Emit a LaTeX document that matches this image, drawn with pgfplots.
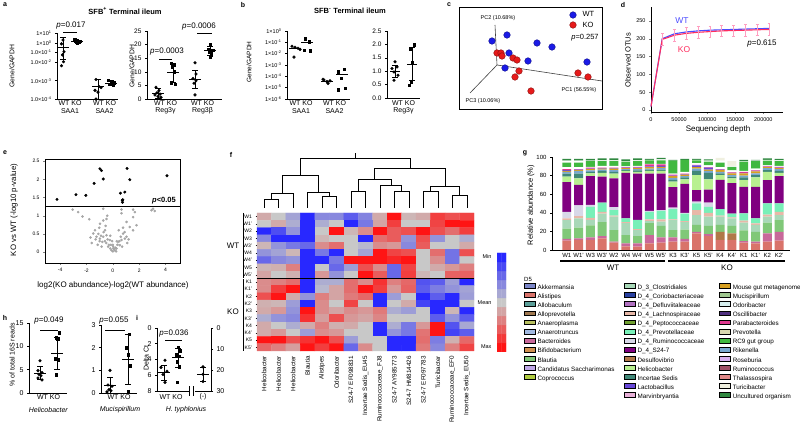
\documentclass[border=0pt]{standalone}
\usepackage{fontspec}
\setmainfont{Liberation Sans}
\usepackage{pgfplots}
\usepackage{pgfplotstable}
\pgfplotsset{compat=1.18}
\newcommand{\fs}[1]{\fontsize{#1}{#1}\selectfont}
\definecolor{wtblue}{HTML}{4B4BFF}
\definecolor{kored}{HTML}{FF2E5F}
\definecolor{errpink}{HTML}{FF9EC0}
\definecolor{pcblue}{HTML}{1A1AE6}
\definecolor{pcred}{HTML}{E61A1A}
\definecolor{La}{HTML}{7B86C8}\definecolor{Lb}{HTML}{D9736A}\definecolor{Lc}{HTML}{5A9E98}
\definecolor{Ld}{HTML}{A07850}\definecolor{Le}{HTML}{B8C060}\definecolor{Lf}{HTML}{A0B8E0}
\definecolor{Lg}{HTML}{C8689A}\definecolor{Lh}{HTML}{D09050}\definecolor{Li}{HTML}{80C878}
\definecolor{Lj}{HTML}{C0A8E8}\definecolor{Lk}{HTML}{B0CC40}
\definecolor{Ma}{HTML}{A8D8B8}\definecolor{Mb}{HTML}{2840A0}\definecolor{Mc}{HTML}{B070C0}
\definecolor{Md}{HTML}{E8B8A8}\definecolor{Me}{HTML}{70A030}\definecolor{Mf}{HTML}{78F0B8}
\definecolor{Mg}{HTML}{D8D8E8}\definecolor{Mh}{HTML}{800080}\definecolor{Mi}{HTML}{B07848}
\definecolor{Mj}{HTML}{B8F090}\definecolor{Mk}{HTML}{408878}\definecolor{Ml}{HTML}{6848D8}
\definecolor{Mm}{HTML}{E8B0D8}
\definecolor{Ra}{HTML}{D8A020}\definecolor{Rb}{HTML}{A0C890}\definecolor{Rc}{HTML}{D8F0F0}
\definecolor{Rd}{HTML}{503080}\definecolor{Re}{HTML}{E03890}\definecolor{Rf}{HTML}{D8D8B0}
\definecolor{Rg}{HTML}{40B840}\definecolor{Rh}{HTML}{78A8D0}\definecolor{Ri}{HTML}{D8B0F0}
\definecolor{Rj}{HTML}{A05068}\definecolor{Rk}{HTML}{E08888}\definecolor{Rl}{HTML}{F0F0E0}
\definecolor{Rm}{HTML}{308840}
\pgfplotsset{
 every axis/.append style={/pgf/number format/assume math mode=true},
 colormap={hm}{rgb255=(40,40,255) rgb255=(200,200,200) rgb255=(255,20,20)},
 px/.style={scale only axis, anchor=south west},
 wt/.style={only marks, mark=*, mark size=1.4pt, black},
 ko/.style={only marks, mark=square*, mark size=1.3pt, black},
 prism/.style={px, axis x line*=bottom, axis y line*=left, xtick=\empty, tick align=outside,
   major tick length=2pt, tick style={black, line width=0.5pt},
   axis line style={black, line width=0.6pt}, tick label style={font=\fs{6}}, clip=false},
 legcol/.style={px, at={(0pt,0pt)}, width=800pt, height=425pt, xmin=0, xmax=800, ymin=0, ymax=425,
   hide axis, legend cell align=left,
   legend image code/.code={\fill[##1] (0pt,-0.6pt) rectangle (11pt,4.2pt); \path (12.5pt,0pt);},
   legend style={at={(#1)}, anchor=north west, draw=none, fill=none, font=\fs{6.3},
     inner sep=0pt, row sep=1.3pt, nodes={inner sep=0.5pt, text height=4.5pt, text depth=1.3pt}}},
}
\newcommand{\msd}[5]{%
 \pgfmathsetmacro\mxa{#1-#5}\pgfmathsetmacro\mxb{#1+#5}%
 \pgfmathsetmacro\cxa{#1-3}\pgfmathsetmacro\cxb{#1+3}%
 \addplot[black,line width=0.6pt] coordinates {(\mxa,#2)(\mxb,#2)};%
 \addplot[black,line width=0.6pt] coordinates {(#1,#3)(#1,#4)};%
 \addplot[black,line width=0.6pt] coordinates {(\cxa,#3)(\cxb,#3)};%
 \addplot[black,line width=0.6pt] coordinates {(\cxa,#4)(\cxb,#4)};}
\newcommand{\mline}[3]{%
 \pgfmathsetmacro\mxa{#1-#3}\pgfmathsetmacro\mxb{#1+#3}%
 \addplot[black,line width=0.6pt] coordinates {(\mxa,#2)(\mxb,#2)};}
\newcommand{\ebar}[5]{%
 \addplot[errpink,line width=0.6pt] coordinates {(#1,#4)(#1,#5)};%
 \addplot[errpink,line width=0.6pt] coordinates {(#2,#4)(#3,#4)};%
 \addplot[errpink,line width=0.6pt] coordinates {(#2,#5)(#3,#5)};}

\pgfplotstableread{
i Alis Desu Bact Blau DClo Lach Prev Rumi Sbar Heli Teal Rike Gold Lact Para GapA RCn GapB Unc Turi
0 10 0 2 11 9 2 0 7 32 6 3 2 1 1 1 2 5 2 2 0
1 11 0 1.5 11.5 10 2.5 0 11.5 22 7 5 3 1 0.5 0.5 2 5 2 2 0
2 11 0 2.5 13 6 2 12 2 31 3 1.5 1.5 1.5 0.5 1 1 6 0.5 2 0
3 12.5 0 2.5 15 9 2 10 0 28 4 2 1.5 1 0.5 0.5 2 5 1 2 0
4 8 0 1 12.5 14.5 1 6 3 31 5 2 2 1.5 0.5 0.5 2 5 1 2 0
5 4 0 3 9 13 1 4 0 49 2 1 1 1 0.5 0.5 1 5 0.5 2 0
6 3.5 0 3.5 8 6.5 1 10 0 49.5 2 1.5 1.5 1 0.5 1 1 5 1 2 0
7 7 0 9 13 2 2 8 1 40 3 1.5 1 1.5 1 2 0.5 4 0.5 1 0
8 8 0 5.5 12.5 4.5 2.5 9 1 39 3 1.5 1.5 1.5 1 1.5 0.5 4 1 1.5 0
9 9 0 4.5 8 10.5 1 11 1.5 22 6 2 2 2 0.5 1 1 14 0 1 0
10 9 0 3 10 8 1 8 1 31 5 2 1.5 1.5 0.5 0.5 2 13 0 1 0
11 18 0 1.5 7.5 10.5 5.5 7 2 12.5 16 4.5 2.5 1.5 2 0.5 2 3 0.5 1 0
12 15 0 2 9 10 4 6.5 4.5 14 11 7 2 1.5 2 0.5 2 4 1 1.5 0
13 11 8.5 0 7.5 9 1 7 0 31.5 5 2 1.5 2 0.5 0.5 2 5 2 0 3
14 11 7 0 8 8 1 4 0 33 5 2 1.5 2 0.5 0.5 2 4 1 0 5
15 8 0 1.5 11.5 8.5 2 8 0 28.5 7 3 2 2.5 0.5 1 1 10 0.5 1.5 0
16 7 0 2 10.5 7.5 1.5 5.5 0 34 10 2.5 2 2 0.5 0.5 2 8 0.5 1 0
17 9 0 9 11.5 6.5 2 12 0 25 9 2 2 1 0.5 0.5 1 5 1 1.5 0
18 10 0 9.5 12.5 5.5 3.5 9 0 29.5 3.5 2 2 1 0.5 1 1 5 1 1.5 0
}\gdata

\begin{document}
\begin{tikzpicture}
\useasboundingbox (0,0) rectangle (800pt,425pt);

% ---------- a1 ----------
\begin{axis}[prism, at={(57pt,326pt)}, width=61pt, height=66pt, xmin=57, xmax=118,
  ymin=0.0001, ymax=10,
  y coord trafo/.code={\pgfmathparse{log10(#1)+0.9*min(log10(#1)+2,0)}},
  ytick={10,1,0.1,0.01,0.001,0.0001},
  yticklabels={1×10\textsuperscript{1},1×10\textsuperscript{0},1.0×10\textsuperscript{-1},1.0×10\textsuperscript{-2},1.0×10\textsuperscript{-3},1.0×10\textsuperscript{-4}},
  tick label style={font=\fs{5.5}}]
\addplot[wt] coordinates {(63,1.9)(61.5,0.78)(64,0.12)(62.5,0.058)(63.5,0.0115)(61.5,0.0066)};
\msd{63}{0.33}{0.02}{3.3}{6}
\addplot[ko] coordinates {(74.5,2.0)(77,1.7)(79.5,1.5)(76,1.3)(78.5,1.1)(77,0.9)(75,1.6)};
\msd{77}{1.5}{1.1}{2.0}{6}
\addplot[wt] coordinates {(96,0.0012)(99,0.0005)(101,0.00044)(95,0.00031)(98,0.00025)(96,0.000105)};
\msd{98}{0.0005}{0.0001}{0.0013}{6}
\addplot[ko] coordinates {(108,0.0011)(111,0.00095)(114,0.00078)(109,0.00066)(113,0.00058)(111,0.0007)};
\msd{111}{0.00078}{0.00056}{0.0011}{6}
\addplot[black,line width=0.6pt] coordinates {(63,12)(77,12)};
\end{axis}

% ---------- a2 ----------
\begin{axis}[prism, at={(147pt,326pt)}, width=75pt, height=68pt, xmin=147, xmax=222,
  ymin=0, ymax=25, ytick={0,5,10,15,20,25}, tick label style={font=\fs{6.5}}]
\addplot[wt] coordinates {(156,4.3)(159,3.1)(157,2.3)(160,1.8)(155,1.5)(158,0.9)(161,0.6)};
\msd{158}{2.1}{0.3}{3.9}{6}
\addplot[ko] coordinates {(171,13.2)(174,12.6)(172,11.9)(174,10.1)(171,6.0)(175,5.5)};
\msd{173}{9.9}{6.0}{13.1}{6}
\addplot[wt] coordinates {(195,13.3)(196,9.2)(193,7.5)(196,6.7)(194,5.8)(195,1.5)};
\msd{195}{7.3}{3.9}{10.6}{6}
\addplot[ko] coordinates {(210,20.2)(208,18.3)(211,17.8)(213,18.0)(209,17.4)(211,16.2)(210,15.3)};
\msd{210}{17.8}{16.1}{19.5}{6}
\addplot[black,line width=0.6pt] coordinates {(159,14.6)(172,14.6)};
\addplot[black,line width=0.6pt] coordinates {(197,24.3)(212,24.3)};
\end{axis}

% ---------- b1 ----------
\begin{axis}[prism, at={(287pt,326pt)}, width=63pt, height=68pt, xmin=287, xmax=350,
  ymode=log, ymin=1e-6, ymax=1, ytick={1,0.1,0.01,0.001,0.0001,0.00001,0.000001},
  yticklabels={1×10\textsuperscript{0},1×10\textsuperscript{-1},1×10\textsuperscript{-2},1×10\textsuperscript{-3},1×10\textsuperscript{-4},1×10\textsuperscript{-5},1×10\textsuperscript{-6}},
  tick label style={font=\fs{5.5}}]
\addplot[wt] coordinates {(292,0.045)(295,0.036)(298,0.03)(300,0.024)(294,0.005)};
\mline{295}{0.028}{6}
\addplot[ko] coordinates {(305,0.22)(309,0.12)(304,0.021)(310,0.018)};
\mline{307}{0.095}{6}
\addplot[wt] coordinates {(324,4.8e-5)(327,3.4e-5)(330,4e-5)(323,5.5e-5)(328,2.4e-5)};
\mline{327}{4e-5}{6}
\addplot[ko] coordinates {(344,4.2e-4)(338,2.6e-4)(341,6.6e-5)(345,8.7e-6)(338,6.3e-6)};
\mline{342}{1.5e-4}{6}
\end{axis}

% ---------- b2 ----------
\begin{axis}[prism, at={(387pt,327pt)}, width=33pt, height=67pt, xmin=387, xmax=420,
  ymin=0, ymax=2.5, ytick={0,0.5,1,1.5,2,2.5},
  yticklabel style={/pgf/number format/.cd, fixed, fixed zerofill, precision=1},
  tick label style={font=\fs{6.5}}]
\addplot[wt] coordinates {(395,1.35)(392,1.1)(397,1.16)(394,0.97)(398,0.85)(394,0.66)};
\msd{395}{0.98}{0.76}{1.22}{5}
\addplot[ko] coordinates {(414,1.98)(410,1.85)(412,1.31)(411,0.6)(409,0.48)};
\msd{412}{1.25}{0.65}{1.9}{5}
\end{axis}

% ---------- c ----------
\begin{axis}[px, at={(459pt,316pt)}, width=143pt, height=102pt, xmin=459, xmax=602,
  ymin=7, ymax=109, y dir=reverse, xtick=\empty, ytick=\empty,
  axis line style={line width=0.8pt}, clip=false]
\addplot[black!75, line width=0.6pt] coordinates {(495,25)(497,65)};
\addplot[black!75, line width=0.6pt] coordinates {(497,65)(602,81)};
\addplot[black!75, line width=0.6pt] coordinates {(497,65)(470,93)};
\addplot[only marks, mark=*, mark size=3.3pt, mark options={fill=pcblue, draw=pcblue!60!black}]
  coordinates {(492,41)(507,35)(537,43)(552,47)(509,53)(528,61)(505,68)(587,62)(573,15)};
\addplot[only marks, mark=*, mark size=3.3pt, mark options={fill=pcred, draw=pcred!60!black}]
  coordinates {(497,53)(501,53)(502,56)(513,58)(517,60)(519,71)(515,77)(531,91)(578,73)(588,77)(573,25)};
\end{axis}

% ---------- d ----------
\begin{axis}[px, at={(651pt,313pt)}, width=132pt, height=105pt, xmin=0, xmax=235000,
  ymin=-5.6, ymax=289, axis x line*=bottom, axis y line*=left, tick align=outside,
  major tick length=2pt, xtick={0,50000,100000,150000,200000}, ytick={0,50,100,150,200,250},
  scaled x ticks=false, xticklabel style={/pgf/number format/.cd, fixed, 1000 sep={}},
  tick label style={font=\fs{5.5}}, clip=false, axis line style={line width=0.5pt}]
\addplot[wtblue, line width=1.1pt, mark=none] coordinates {(0,10)(20000,200)(42000,214)(63000,219)(84000,222)(105000,224)(126000,225)(147000,226)(168000,227)(189000,228)(210000,229)};
\addplot[kored, line width=1.1pt, mark=none] coordinates {(0,10)(20000,198)(42000,210)(63000,215)(84000,218)(105000,220)(126000,222)(147000,223)(168000,224)(189000,225)(210000,226)};
\ebar{20000}{17400}{22600}{182}{214}
\ebar{42000}{39400}{44600}{194}{226}
\ebar{63000}{60400}{65600}{199}{231}
\ebar{84000}{81400}{86600}{202}{234}
\ebar{105000}{102400}{107600}{204}{236}
\ebar{126000}{123400}{128600}{206}{238}
\ebar{147000}{144400}{149600}{207}{239}
\ebar{168000}{165400}{170600}{208}{240}
\ebar{189000}{186400}{191600}{209}{241}
\ebar{210000}{207400}{212600}{210}{242}
\end{axis}

% ---------- e ----------
\begin{axis}[px, at={(45pt,162pt)}, width=135pt, height=104pt, xmin=-5.15, xmax=5.1,
  ymin=-0.3, ymax=2.56, xtick={-4,-2,0,2,4}, ytick={0,0.5,1,1.5,2,2.5},
  yticklabels={0,0.5,1,1.5,2,2.5}, xtick pos=bottom, ytick pos=left, tick align=outside,
  major tick length=2pt, tick label style={font=\fs{5}}, axis line style={line width=0.7pt}]
\addplot[black, line width=0.7pt] coordinates {(-5.15,1.26)(5.1,1.26)};
\addplot[only marks, mark=*, mark size=1.1pt, color=black!35] coordinates {
(-3.05,1.17)(-2.63,1.10)(-2.30,0.98)(-1.79,0.90)(-0.73,1.19)(-0.43,1.00)(-0.48,0.91)(-0.73,0.87)
(-0.98,0.78)(-1.03,0.67)(-1.36,0.60)(-1.49,0.51)(-1.69,0.40)(-1.24,0.42)(-0.98,0.37)(-0.73,0.42)
(-0.48,0.46)(-0.23,0.33)(0.03,0.15)(0.15,0.05)(0.28,0.10)(0.53,0.19)(0.66,0.33)(0.91,0.37)
(1.04,0.42)(0.78,0.51)(0.78,0.67)(1.04,0.83)(1.29,0.69)(1.54,0.60)(1.80,0.74)(1.54,0.96)
(1.67,1.10)(1.54,1.17)(0.66,1.17)(0.66,1.07)(3.05,1.19)(3.18,1.13)(2.93,1.15)
(-0.5,0.25)(-0.3,0.2)(-0.2,0.1)(0,0.02)(0.1,0.08)(0.35,0.2)(0.4,0.28)(-0.6,0.3)(-0.8,0.28)
(-0.1,0.05)(0.2,0.12)(0.5,0.3)(-1.1,0.5)(-0.9,0.45)(0.6,0.42)(-0.35,0.15)(0.05,0.1)(0.25,0.02)
(-0.15,0.2)(-0.7,0.55)(0.9,0.55)(-1.3,0.35)(1.2,0.35)(-1.0,0.3)(-0.4,0.35)(0.3,0.3)(-0.6,0.6)
(-0.55,0.72)(-0.2,0.45)(0.45,0.6)(1.1,0.25)(-1.15,0.2)(-0.85,0.15)(0.7,0.15)(-0.05,0.3)
(-1.6,0.25)(0.0,0.2)};
\addplot[only marks, mark=*, mark size=1.3pt, black] coordinates {
(-4.24,1.45)(-2.8,1.58)(-2.05,1.56)(-1.42,1.89)(-0.98,2.29)(-0.86,2.24)(-0.73,2.01)(0.58,1.62)
(0.91,1.65)(0.72,1.42)(0.73,1.37)(0.75,1.44)(1.08,2.30)(1.29,1.99)(4.11,2.10)};
\end{axis}

% ---------- f dendrogram ----------
\begin{axis}[px, at={(257pt,216pt)}, width=217pt, height=57pt, xmin=-0.5, xmax=14.5,
  ymin=216, ymax=273, hide axis, clip=false]
\addplot[black, line width=0.5pt] coordinates {(0,217)(0,225.7)(1,225.7)(1,217)};
\addplot[black, line width=0.5pt] coordinates {(0.5,225.7)(0.5,231.7)(2,231.7)(2,217)};
\addplot[black, line width=0.5pt] coordinates {(4,217)(4,229)(5,229)(5,217)};
\addplot[black, line width=0.5pt] coordinates {(3,217)(3,232.3)(4.5,232.3)(4.5,229)};
\addplot[black, line width=0.5pt] coordinates {(1.25,231.7)(1.25,250)(3.75,250)(3.75,232.3)};
\addplot[black, line width=0.5pt] coordinates {(6,217)(6,233.3)(7,233.3)(7,217)};
\addplot[black, line width=0.5pt] coordinates {(9,217)(9,233.3)(10,233.3)(10,217)};
\addplot[black, line width=0.5pt] coordinates {(8,217)(8,240)(9.5,240)(9.5,233.3)};
\addplot[black, line width=0.5pt] coordinates {(6.5,233.3)(6.5,245.7)(8.75,245.7)(8.75,240)};
\addplot[black, line width=0.5pt] coordinates {(11,217)(11,233.3)(12,233.3)(12,217)};
\addplot[black, line width=0.5pt] coordinates {(13,217)(13,230)(14,230)(14,217)};
\addplot[black, line width=0.5pt] coordinates {(11.5,233.3)(11.5,238.3)(13.5,238.3)(13.5,230)};
\addplot[black, line width=0.5pt] coordinates {(7.625,245.7)(7.625,256.7)(12.5,256.7)(12.5,238.3)};
\addplot[black, line width=0.5pt] coordinates {(2.5,250)(2.5,266.7)(10.06,266.7)(10.06,256.7)};
\addplot[black, line width=0.5pt] coordinates {(6.28,266.7)(6.28,272)};
\end{axis}

% ---------- f heatmap ----------
\begin{axis}[px, at={(257pt,74pt)}, width=217pt, height=138pt, xmin=-0.5, xmax=14.5,
  ymin=-0.5, ymax=18.5, axis line style={draw=none}, colormap name=hm,
  point meta min=-3, point meta max=3, clip=false,
  xtick={0,...,14}, xticklabels={Helicobacter,Helicobacter,Helicobacter,Blautia,Alistipes,Odoribacter,S24-7 EF098831,Incertae Sedis\_EU45,Ruminococcaceae\_FJ8,S24-7 AY985773,S24-7 HM814426,S24-7 EF097783,Turicibacter,Ruminococcaceae\_EF0,Incertae Sedis\_EU50},
  xticklabel style={rotate=90, anchor=east, font=\fs{6.3}}, every x tick/.style={draw=none},
  ytick={0,...,18}, yticklabels={K5',K5,K4',K4,K3',K3,K2',K2,K1',K1,W5',W5,W4',W4,W3',W3,W2,W1',W1},
  yticklabel style={font=\fs{5}}, ytick pos=left, tick align=outside, major tick length=1.5pt,
  tick style={black, line width=0.4pt}]
\addplot[matrix plot*, mesh/cols=15, point meta=explicit] coordinates {
(0,18)[0.5](1,18)[0](2,18)[-0.7](3,18)[-3](4,18)[-1.2](5,18)[-1.2](6,18)[-2](7,18)[-1.3](8,18)[0.5](9,18)[3](10,18)[0.3](11,18)[0.5](12,18)[2.3](13,18)[2](14,18)[2.2]
(0,17)[0](1,17)[0.5](2,17)[-0.5](3,17)[-3](4,17)[-0.5](5,17)[0](6,17)[-3](7,17)[-1.5](8,17)[0.6](9,17)[2.3](10,17)[0](11,17)[0](12,17)[2.2](13,17)[3](14,17)[3]
(0,16)[-3](1,16)[-2.3](2,16)[-1](3,16)[-3](4,16)[0](5,16)[3](6,16)[0.3](7,16)[1](8,16)[3](9,16)[1.8](10,16)[2](11,16)[3](12,16)[2](13,16)[1.5](14,16)[2.3]
(0,15)[-1.2](1,15)[-3](2,15)[-3](3,15)[-3](4,15)[0.3](5,15)[0](6,15)[0](7,15)[-3](8,15)[1.5](9,15)[1.8](10,15)[-1](11,15)[2](12,15)[-1](13,15)[0](14,15)[-0.5]
(0,14)[0.3](1,14)[-1](2,14)[-1.5](3,14)[-1.8](4,14)[1](5,14)[1.5](6,14)[0](7,14)[-0.3](8,14)[1](9,14)[0.8](10,14)[-1.2](11,14)[1.8](12,14)[0](13,14)[0](14,14)[0.5]
(0,13)[-1](1,13)[-0.7](2,13)[0.3](3,13)[-3](4,13)[-1.5](5,13)[-3](6,13)[0](7,13)[-0.7](8,13)[3](9,13)[2.2](10,13)[2](11,13)[0](12,13)[1.5](13,13)[-1.6](14,13)[2]
(0,12)[-1.8](1,12)[-1.2](2,12)[-1](3,12)[-3](4,12)[-3](5,12)[-1.5](6,12)[3](7,12)[3](8,12)[3](9,12)[2.7](10,12)[3](11,12)[0](12,12)[1](13,12)[-1.6](14,12)[0]
(0,11)[0.3](1,11)[0.4](2,11)[1.2](3,11)[-3](4,11)[0](5,11)[-1.8](6,11)[-0.8](7,11)[2](8,11)[1](9,11)[-1.8](10,11)[2.2](11,11)[0](12,11)[0.5](13,11)[0.8](14,11)[1.2]
(0,10)[0.6](1,10)[0](2,10)[0.4](3,10)[-3](4,10)[0.8](5,10)[-1](6,10)[0](7,10)[3](8,10)[1.8](9,10)[-1.8](10,10)[2.3](11,10)[0.3](12,10)[0](13,10)[1.7](14,10)[1.7]
(0,9)[1](1,9)[1.2](2,9)[1.5](3,9)[-3](4,9)[-0.5](5,9)[-0.5](6,9)[1.5](7,9)[1](8,9)[2.5](9,9)[1.2](10,9)[1.6](11,9)[-2.2](12,9)[-2](13,9)[-0.8](14,9)[-3]
(0,8)[1](1,8)[2.3](2,8)[3](3,8)[-3](4,8)[-0.3](5,8)[0.6](6,8)[1.5](7,8)[3](8,8)[2.3](9,8)[0.8](10,8)[1.7](11,8)[-2](12,8)[-1.4](13,8)[-1](14,8)[-0.7]
(0,7)[2](1,7)[3](2,7)[0.5](3,7)[-1](4,7)[1.2](5,7)[0.6](6,7)[1.3](7,7)[1.6](8,7)[-3](9,7)[-0.8](10,7)[0](11,7)[-3](12,7)[-2](13,7)[-3](14,7)[-0.8]
(0,6)[0.4](1,6)[0.3](2,6)[-0.8](3,6)[-3](4,6)[1](5,6)[0](6,6)[2.2](7,6)[0](8,6)[-3](9,6)[0](10,6)[0.5](11,6)[-2.5](12,6)[-3](13,6)[-3](14,6)[0]
(0,5)[0.5](1,5)[0.8](2,5)[-1](3,5)[3](4,5)[1](5,5)[0.6](6,5)[1](7,5)[0.8](8,5)[1.3](9,5)[-0.5](10,5)[-0.8](11,5)[0](12,5)[-3](13,5)[0.3](14,5)[-3]
(0,4)[-0.5](1,4)[-1](2,4)[-1.2](3,4)[2.5](4,4)[0.7](5,4)[2](6,4)[0.8](7,4)[0.6](8,4)[1.1](9,4)[0](10,4)[0](11,4)[0](12,4)[-2](13,4)[-1](14,4)[-2]
(0,3)[0.5](1,3)[0](2,3)[-0.5](3,3)[0.5](4,3)[1.2](5,3)[0.4](6,3)[0.5](7,3)[0](8,3)[-3](9,3)[-0.5](10,3)[-1.5](11,3)[0.8](12,3)[3](13,3)[-2.2](14,3)[-0.6]
(0,2)[0.5](1,2)[0.8](2,2)[0](3,2)[-0.8](4,2)[1](5,2)[0.8](6,2)[0](7,2)[0](8,2)[-3](9,2)[-1](10,2)[-1.5](11,2)[1.4](12,2)[3](13,2)[-2.5](14,2)[-2]
(0,1)[3](1,1)[3](2,1)[2](3,1)[2.5](4,1)[3](5,1)[2](6,1)[-0.8](7,1)[0](8,1)[0](9,1)[-3](10,1)[-3](11,1)[1.5](12,1)[-1.4](13,1)[0.4](14,1)[1.6]
(0,0)[1.6](1,0)[1.2](2,0)[0.7](3,0)[3](4,0)[2.3](5,0)[3](6,0)[-1.8](7,0)[1](8,0)[0](9,0)[-3](10,0)[-3](11,0)[1.3](12,0)[-1.2](13,0)[1.2](14,0)[2.2]
};
\addplot[black, line width=0.8pt] coordinates {(-0.5,9.5)(14.5,9.5)};
\addplot[black, line width=0.8pt] coordinates {(-1.47,18.5)(-1.47,9.6)};
\addplot[black, line width=0.8pt] coordinates {(-1.47,9.4)(-1.47,-0.5)};
\end{axis}

% ---------- f colour bar ----------
\begin{axis}[px, at={(497pt,73pt)}, width=9pt, height=99pt, xmin=-0.5, xmax=1.5,
  ymin=-0.5, ymax=10.5, hide axis, colormap name=hm, point meta min=-3, point meta max=3]
\addplot[matrix plot*, mesh/cols=2, point meta=explicit] coordinates {
(0,0)[3](1,0)[3] (0,1)[2.4](1,1)[2.4] (0,2)[1.8](1,2)[1.8] (0,3)[1.2](1,3)[1.2]
(0,4)[0.6](1,4)[0.6] (0,5)[0](1,5)[0] (0,6)[-0.6](1,6)[-0.6] (0,7)[-1.2](1,7)[-1.2]
(0,8)[-1.8](1,8)[-1.8] (0,9)[-2.4](1,9)[-2.4] (0,10)[-3](1,10)[-3]};
\end{axis}

% ---------- g ----------
\begin{axis}[px, at={(552pt,175pt)}, width=238pt, height=93pt, ybar stacked, bar width=0.76,
  xmin=-1.25, xmax=18.92, ymin=0, ymax=100, axis x line*=bottom, axis y line*=left,
  xtick={0,...,18}, xticklabels={W1,W1',W3,W3',W2,W4,W4',W5,W5',K3,K3',K5,K5',K4,K4',K1,K1',K2,K2'},
  every x tick/.style={draw=none}, ytick={0,20,40,60,80,100}, tick align=outside,
  major tick length=2pt, tick style={black}, tick label style={font=\fs{6}},
  xticklabel style={inner sep=1pt}, axis line style={line width=0.6pt}]
\addplot[fill=Lb, draw=none] table[x=i,y=Alis]{\gdata};
\addplot[fill=Mi, draw=none] table[x=i,y=Desu]{\gdata};
\addplot[fill=Lg, draw=none] table[x=i,y=Bact]{\gdata};
\addplot[fill=Li, draw=none] table[x=i,y=Blau]{\gdata};
\addplot[fill=Ma, draw=none] table[x=i,y=DClo]{\gdata};
\addplot[fill=Md, draw=none] table[x=i,y=Lach]{\gdata};
\addplot[fill=Mf, draw=none] table[x=i,y=Prev]{\gdata};
\addplot[fill=Mg, draw=none] table[x=i,y=Rumi]{\gdata};
\addplot[fill=Mh, draw=none] table[x=i,y=Sbar]{\gdata};
\addplot[fill=Mj, draw=none] table[x=i,y=Heli]{\gdata};
\addplot[fill=Mk, draw=none] table[x=i,y=Teal]{\gdata};
\addplot[fill=Rh, draw=none] table[x=i,y=Rike]{\gdata};
\addplot[fill=Ra, draw=none] table[x=i,y=Gold]{\gdata};
\addplot[fill=Ml, draw=none] table[x=i,y=Lact]{\gdata};
\addplot[fill=Re, draw=none] table[x=i,y=Para]{\gdata};
\addplot[fill=white, draw=none] table[x=i,y=GapA]{\gdata};
\addplot[fill=Rg, draw=none] table[x=i,y=RCn]{\gdata};
\addplot[fill=white, draw=none] table[x=i,y=GapB]{\gdata};
\addplot[fill=Rm, draw=none] table[x=i,y=Unc]{\gdata};
\addplot[fill=Rl, draw=none] table[x=i,y=Turi]{\gdata};
\end{axis}

% ---------- g legends ----------
\begin{axis}[legcol={0.655,0.334}]
\addlegendimage{fill=La}\addlegendentry{Akkermansia}
\addlegendimage{fill=Lb}\addlegendentry{Alistipes}
\addlegendimage{fill=Lc}\addlegendentry{Allobaculum}
\addlegendimage{fill=Ld}\addlegendentry{Alloprevotella}
\addlegendimage{fill=Le}\addlegendentry{Anaeroplasma}
\addlegendimage{fill=Lf}\addlegendentry{Anaerotruncus}
\addlegendimage{fill=Lg}\addlegendentry{Bacteroides}
\addlegendimage{fill=Lh}\addlegendentry{Bifidobacterium}
\addlegendimage{fill=Li}\addlegendentry{Blautia}
\addlegendimage{fill=Lj}\addlegendentry{Candidatus Saccharimonas}
\addlegendimage{fill=Lk}\addlegendentry{Coprococcus}
\end{axis}
\begin{axis}[legcol={0.78,0.334}]
\addlegendimage{fill=Ma}\addlegendentry{D\_3\_Clostridiales}
\addlegendimage{fill=Mb}\addlegendentry{D\_4\_Coriobacteriaceae}
\addlegendimage{fill=Mc}\addlegendentry{D\_4\_Defluviitaleaceae}
\addlegendimage{fill=Md}\addlegendentry{D\_4\_Lachnospiraceae}
\addlegendimage{fill=Me}\addlegendentry{D\_4\_Peptococcaceae}
\addlegendimage{fill=Mf}\addlegendentry{D\_4\_Prevotellaceae}
\addlegendimage{fill=Mg}\addlegendentry{D\_4\_Ruminococcaceae}
\addlegendimage{fill=Mh}\addlegendentry{D\_4\_S24-7}
\addlegendimage{fill=Mi}\addlegendentry{Desulfovibrio}
\addlegendimage{fill=Mj}\addlegendentry{Helicobacter}
\addlegendimage{fill=Mk}\addlegendentry{Incertae Sedis}
\addlegendimage{fill=Ml}\addlegendentry{Lactobacillus}
\addlegendimage{fill=Mm}\addlegendentry{Marvinbryantia}
\end{axis}
\begin{axis}[legcol={0.899,0.334}]
\addlegendimage{fill=Ra}\addlegendentry{Mouse gut metagenome}
\addlegendimage{fill=Rb}\addlegendentry{Mucispirillum}
\addlegendimage{fill=Rc}\addlegendentry{Odoribacter}
\addlegendimage{fill=Rd}\addlegendentry{Oscillibacter}
\addlegendimage{fill=Re}\addlegendentry{Parabacteroides}
\addlegendimage{fill=Rf}\addlegendentry{Prevotella}
\addlegendimage{fill=Rg}\addlegendentry{RC9 gut group}
\addlegendimage{fill=Rh}\addlegendentry{Rikenella}
\addlegendimage{fill=Ri}\addlegendentry{Roseburia}
\addlegendimage{fill=Rj}\addlegendentry{Ruminococcus}
\addlegendimage{fill=Rk}\addlegendentry{Thalassospira}
\addlegendimage{fill=Rl}\addlegendentry{Turicibacter}
\addlegendimage{fill=Rm}\addlegendentry{Uncultured organism}
\end{axis}

% ---------- h1 ----------
\begin{axis}[prism, at={(29pt,32pt)}, width=38pt, height=70pt, xmin=29, xmax=67,
  ymin=0, ymax=15, ytick={0,5,10,15}, tick label style={font=\fs{7}}]
\addplot[wt] coordinates {(40,6.9)(38,4.8)(42,4.4)(39,4.0)(41,3.7)(38,3.2)(42,2.8)};
\msd{40}{4.3}{2.9}{5.8}{6}
\addplot[ko] coordinates {(59,12.9)(56,11.9)(57.5,11.6)(55,7.4)(58,7.1)(56,3.9)};
\msd{57}{8.5}{5.1}{11.9}{6}
\addplot[black,line width=0.6pt] coordinates {(40,13.5)(58,13.5)};
\end{axis}

% ---------- h2 ----------
\begin{axis}[prism, at={(101pt,32pt)}, width=36pt, height=68pt, xmin=101, xmax=137,
  ymin=0, ymax=3, ytick={0,1,2,3}, tick label style={font=\fs{7}}]
\addplot[wt] coordinates {(110,1.0)(108,0.35)(112,0.3)(109,0.15)(111,0.1)(107,0.05)};
\msd{110}{0.35}{0.0}{0.7}{6}
\addplot[ko] coordinates {(129,2.6)(126,2.0)(128,1.7)(130,1.2)(128,0.05)};
\msd{128}{1.5}{0.4}{2.6}{6}
\addplot[black,line width=0.6pt] coordinates {(105,2.77)(125,2.77)};
\end{axis}

% ---------- i ----------
\begin{axis}[prism, at={(157pt,34pt)}, width=54pt, height=63pt, xmin=157, xmax=211,
  ymin=0, ymax=8, y dir=reverse, ytick={0,2,4,6,8}, tick label style={font=\fs{7}}]
\addplot[wt] coordinates {(165,4.1)(161,5.0)(167,5.5)(163,5.9)(165,6.9)};
\msd{164}{5.65}{4.7}{6.6}{6}
\addplot[ko] coordinates {(178,2.45)(180,2.9)(176,3.4)(179,3.6)(177,4.3)(179,4.9)(177,6.9)};
\msd{178}{3.7}{2.6}{5.0}{6}
\addplot[black,line width=0.6pt] coordinates {(165,1.6)(182,1.6)};
\end{axis}
\begin{axis}[px, at={(157pt,34pt)}, width=54pt, height=63pt, xmin=157, xmax=211,
  ymin=0, ymax=30, y dir=reverse, axis x line=none, axis y line*=right, xtick=\empty,
  ytick={0,10,20,30}, tick align=outside, major tick length=2pt, tick style={black},
  tick label style={font=\fs{7}}, clip=false, axis line style={line width=0.6pt}]
\addplot[wt] coordinates {(203,18.5)(203,22)(203,25.5)};
\msd{203}{22}{18.5}{25.5}{6}
\end{axis}

% ---------- page overlay: text ----------
\begin{axis}[px, at={(0pt,0pt)}, width=800pt, height=425pt, xmin=0, xmax=800, ymin=0, ymax=425,
  y dir=reverse, hide axis, clip=false]
\addplot[black, line width=1.4pt] coordinates {(560,261)(665,261)};
\addplot[black, line width=1.4pt] coordinates {(668,261)(785,261)};
\addplot[white, line width=2pt] coordinates {(188.5,391)(194.5,391)};
\addplot[black, line width=0.6pt] coordinates {(189.5,386)(189.5,396)};
\addplot[black, line width=0.6pt] coordinates {(193,386)(193,396)};
\begin{scope}[every node/.style={font=\fs{7}}]
\node[font=\fs{7}\bfseries] at (axis cs:5,5) {a};
\node[font=\fs{7}\bfseries] at (axis cs:243,5) {b};
\node[font=\fs{7}\bfseries] at (axis cs:449,5) {c};
\node[font=\fs{7}\bfseries] at (axis cs:623,5) {d};
\node[font=\fs{7}\bfseries] at (axis cs:5,153) {e};
\node[font=\fs{7}\bfseries] at (axis cs:231,155) {f};
\node[font=\fs{7}\bfseries] at (axis cs:525,153) {g};
\node[font=\fs{7}\bfseries] at (axis cs:5,318) {h};
\node[font=\fs{7}\bfseries] at (axis cs:137,318) {i};
\node[font=\fs{7.5}\bfseries] at (axis cs:125,11) {SFB\textsuperscript{+} Terminal ileum};
\node[font=\fs{7.5}\bfseries] at (axis cs:350,11) {SFB\textsuperscript{-} Terminal ileum};
\node[rotate=90, font=\fs{6.8}] at (axis cs:12,66) {Gene/GAPDH};
\node[rotate=90, font=\fs{6.8}] at (axis cs:132,66) {Gene/GAPDH};
\node[font=\fs{8}] at (axis cs:71,26) {\textit{p}=0.017};
\node[font=\fs{8}] at (axis cs:167,52) {\textit{p}=0.0003};
\node[font=\fs{8}] at (axis cs:199,27) {\textit{p}=0.0006};
\node at (axis cs:70,103) {WT KO};
\node at (axis cs:70,111) {SAA1};
\node at (axis cs:104.5,103) {WT KO};
\node at (axis cs:104.5,111) {SAA2};
\node at (axis cs:165.5,103) {WT KO};
\node at (axis cs:165.5,111) {Reg3γ};
\node at (axis cs:202.5,103) {WT KO};
\node at (axis cs:202.5,111) {Reg3β};
\node[rotate=90, font=\fs{6.5}] at (axis cs:249,62) {Gene/GAPDH};
\node at (axis cs:301,103) {WT KO};
\node at (axis cs:301,111) {SAA1};
\node at (axis cs:334.5,103) {WT KO};
\node at (axis cs:334.5,111) {SAA2};
\node at (axis cs:403.5,103) {WT KO};
\node at (axis cs:403.5,111) {Reg3γ};
\node[font=\fs{5.5}] at (axis cs:498,18) {PC2 (10.68\%)};
\node[font=\fs{5.5}] at (axis cs:579,90) {PC1 (56.55\%)};
\node[font=\fs{5.5}] at (axis cs:483,101) {PC3 (10.06\%)};
\node[font=\fs{7.5}, anchor=west] at (axis cs:579,14) {WT};
\node[font=\fs{7.5}, anchor=west] at (axis cs:579,25) {KO};
\node[font=\fs{7.5}] at (axis cs:585,38) {\textit{p}=0.257};
\node[rotate=90, font=\fs{7.5}] at (axis cs:628,60) {Observed OTUs};
\node[font=\fs{8}] at (axis cs:718,129) {Sequencing depth};
\node[font=\fs{8.5}, text=wtblue] at (axis cs:682,21) {WT};
\node[font=\fs{8.5}, text=kored] at (axis cs:684,50) {KO};
\node[font=\fs{8}] at (axis cs:762,44) {\textit{p}=0.615};
\node[rotate=90, font=\fs{7.8}] at (axis cs:14,210) {KO vs WT (-log10 p-value)};
\node[font=\fs{8}] at (axis cs:113,285) {log2(KO abundance)-log2(WT abundance)};
\node[font=\fs{7.5}\bfseries] at (axis cs:164,201) {\textit{p}<0.05};
\node[font=\fs{8}] at (axis cs:233,246) {WT};
\node[font=\fs{8}] at (axis cs:233,312) {KO};
\node[font=\fs{5.5}, anchor=east] at (axis cs:495,257) {Min};
\node[font=\fs{5.5}, anchor=east] at (axis cs:495,303) {Mean};
\node[font=\fs{5.5}, anchor=east] at (axis cs:495,347) {Max};
\node[rotate=90, font=\fs{7.5}] at (axis cs:531,205) {Relative abundance (\%)};
\node[font=\fs{8}] at (axis cs:613,268) {WT};
\node[font=\fs{8}] at (axis cs:727,268) {KO};
\node[font=\fs{6}] at (axis cs:528,279) {D5};
\node[rotate=90, font=\fs{7}] at (axis cs:12,355) {\% of total 16S reads};
\node[font=\fs{8}] at (axis cs:49,321) {\textit{p}=0.049};
\node at (axis cs:48.5,397) {WT KO};
\node at (axis cs:48.5,410) {\textit{Helicobacter}};
\node[font=\fs{8}] at (axis cs:114,321) {\textit{p}=0.055};
\node at (axis cs:119,397) {WT KO};
\node at (axis cs:120,410) {\textit{Mucispirillum}};
\node[rotate=90, font=\fs{7}] at (axis cs:146,358) {Delta Ct};
\node[font=\fs{8}] at (axis cs:174,334) {\textit{p}=0.036};
\node at (axis cs:171,397) {WT KO};
\node at (axis cs:203,397) {(-)};
\node at (axis cs:186,410) {\textit{H. typhlonius}};
\end{scope}
\end{axis}
\end{tikzpicture}
\end{document}
